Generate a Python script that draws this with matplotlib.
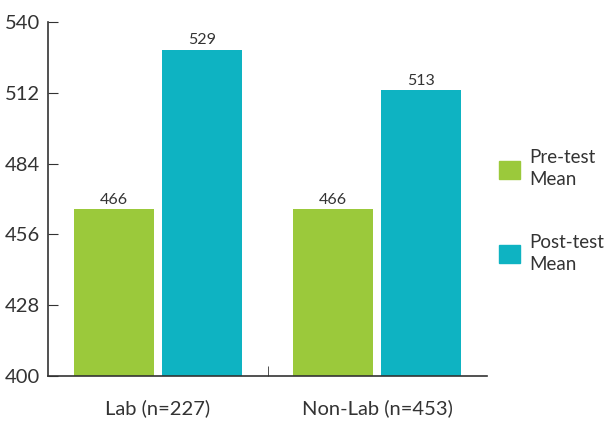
import matplotlib.pyplot as plt
from matplotlib.patches import Patch
import numpy as np

plt.rcParams['font.family'] = ['Lato', 'DejaVu Sans']

groups = ["Lab (n=227)", "Non-Lab (n=453)"]
pre_mean = [466, 466]
post_mean = [529, 513]
series_names = ["Pre-test\nMean", "Post-test\nMean"]
yticks = [400, 428, 456, 484, 512, 540]

green = "#9bc93b"
teal = "#0eb3c2"
dark = "#333333"

fig = plt.figure(figsize=(6.09, 4.21), dpi=100)
ax = fig.add_axes([0.0788, 0.1069, 0.7209, 0.8409])

x = np.arange(len(groups))
w = 0.365
b1 = ax.bar(x - 0.2, pre_mean, w, color=green)
b2 = ax.bar(x + 0.2, post_mean, w, color=teal)

for bars in (b1, b2):
    for r in bars:
        ax.text(r.get_x() + r.get_width() / 2, r.get_height() + 1.0, str(int(r.get_height())),
                ha="center", va="bottom", fontsize=11.5, color=dark)

ax.set_xlim(-0.5, 1.5)
ax.set_ylim(400, 540)
ax.set_yticks(yticks)
ax.set_xticks(x)
ax.set_xticklabels(groups, fontsize=14.5, color=dark)
ax.set_xticks([0.5], minor=True)
ax.tick_params(axis="x", which="major", length=0, pad=17)
ax.tick_params(axis="x", which="minor", direction="in", length=7, color=dark)
ax.tick_params(axis="y", direction="in", length=7, color=dark, labelsize=14.5, labelcolor=dark, pad=6)

for s in ("top", "right"):
    ax.spines[s].set_visible(False)
for s in ("left", "bottom"):
    ax.spines[s].set_color(dark)
    ax.spines[s].set_linewidth(1.2)

handles = [Patch(color=green), Patch(color=teal)]
leg = fig.legend(handles, series_names, loc="upper left", bbox_to_anchor=(0.792, 0.685),
                 frameon=False, fontsize=13.5, labelcolor=dark, handlelength=1.1,
                 handleheight=1.1, labelspacing=2.45, handletextpad=0.5)
for t in leg.get_texts():
    t.set_linespacing(1.35)

fig.savefig("out.png", dpi=100)
